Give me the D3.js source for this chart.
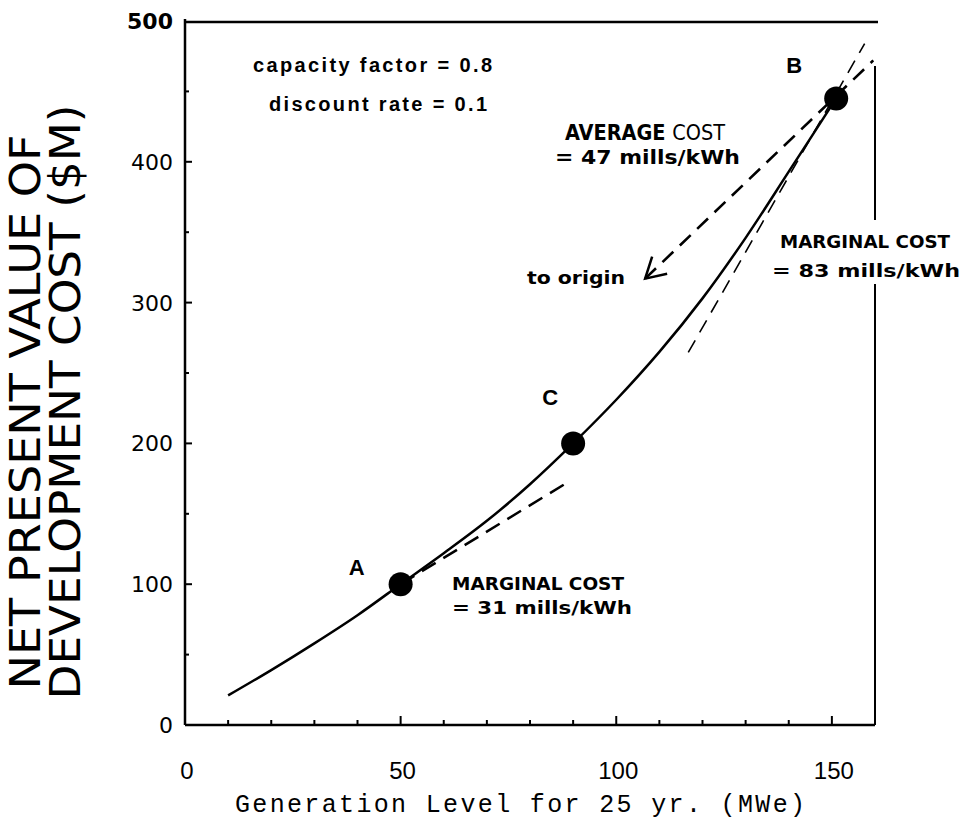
<!DOCTYPE html>
<html>
<head>
<meta charset="utf-8">
<script src="https://cdnjs.cloudflare.com/ajax/libs/d3/7.8.5/d3.min.js"></script>
<style>
  body { margin: 0; background: #fff; }
  svg { display: block; }
  .ann { font-family: "Liberation Sans Narrow", "DejaVu Sans Condensed", "Liberation Sans", sans-serif; font-weight: bold; fill: #000; }
</style>
</head>
<body>
<svg id="chart" width="961" height="824"></svg>
<script>
// ── data ──────────────────────────────────────────────────────────────────
const curveX = [10, 20, 30, 40, 50, 60, 70, 80, 90, 100, 110, 120, 130, 140, 151];
const curveY = [21, 39, 58, 78, 100, 122, 145, 171, 200, 231, 265, 303, 346, 393, 445];

const pointNames = ["A", "C", "B"];
const pointX = [50, 90, 151];
const pointY = [100, 200, 445];

// dashed reference lines, [x1, y1, x2, y2] in data units
const marginalA = [50, 100, 88, 171];
const marginalB = [116.7, 264.6, 157.6, 484];
const averageB = [106.7, 317, 159.6, 472];

const xTicks = [0, 50, 100, 150];
const xMinor = d3.range(10, 151, 10);
const yTicks = [0, 100, 200, 300, 400, 500];
const yMinor = d3.range(50, 500, 50);

// ── layout ────────────────────────────────────────────────────────────────
const svg = d3.select("#chart");
const xS = d3.scaleLinear().domain([0, 160]).range([185, 875]);
const yS = d3.scaleLinear().domain([0, 500]).range([725, 21]);

const g = svg.append("g");

// frame: left axis, bottom axis, top line, right line
g.append("line")
  .attr("x1", xS(0)).attr("x2", xS(0))
  .attr("y1", yS(0)).attr("y2", yS(500) - 2)
  .attr("stroke", "#000").attr("stroke-width", 2.5);
g.append("line")
  .attr("x1", xS(0)).attr("x2", xS(160))
  .attr("y1", yS(0)).attr("y2", yS(0))
  .attr("stroke", "#000").attr("stroke-width", 2.5);
g.append("line")
  .attr("x1", xS(0)).attr("x2", xS(160) + 3)
  .attr("y1", yS(500) + 1).attr("y2", yS(500) + 1)
  .attr("stroke", "#000").attr("stroke-width", 2.5);
g.append("line")
  .attr("x1", xS(160)).attr("x2", xS(160))
  .attr("y1", yS(468)).attr("y2", yS(0))
  .attr("stroke", "#000").attr("stroke-width", 2);

// x ticks (inward, up)
g.selectAll("line.xt")
  .data(xMinor)
  .enter()
  .append("line")
  .attr("class", "xt")
  .attr("x1", (d) => xS(d)).attr("x2", (d) => xS(d))
  .attr("y1", yS(0))
  .attr("y2", (d) => yS(0) - (d % 50 === 0 ? 9 : 5))
  .attr("stroke", "#000").attr("stroke-width", 2);

// y ticks (inward, right)
g.selectAll("line.yt")
  .data(yMinor)
  .enter()
  .append("line")
  .attr("class", "yt")
  .attr("x1", xS(0))
  .attr("x2", (d) => xS(0) + (d % 100 === 0 ? 7 : 4))
  .attr("y1", (d) => yS(d)).attr("y2", (d) => yS(d))
  .attr("stroke", "#000").attr("stroke-width", 2);

// tick labels
g.selectAll("text.xl")
  .data(xTicks)
  .enter()
  .append("text")
  .attr("class", "xl")
  .attr("x", (d) => xS(d) + 2)
  .attr("y", yS(0) + 54)
  .attr("text-anchor", "middle")
  .attr("font-family", "Liberation Sans, Arial, sans-serif")
  .attr("font-size", 24)
  .text((d) => d);

g.selectAll("text.yl")
  .data(yTicks)
  .enter()
  .append("text")
  .attr("class", "yl")
  .attr("x", xS(0) - 12)
  .attr("y", (d) => yS(d) + 8)
  .attr("text-anchor", "end")
  .attr("font-family", "DejaVu Sans, sans-serif")
  .attr("font-size", 22)
  .attr("font-weight", (d) => (d === 500 ? "bold" : "normal"))
  .text((d) => d);

// axis titles
svg.append("text")
  .attr("x", 520).attr("y", 812)
  .attr("text-anchor", "middle")
  .attr("font-family", "Liberation Mono, DejaVu Sans Mono, monospace")
  .attr("font-size", 25)
  .attr("textLength", 570)
  .text("Generation Level for 25 yr. (MWe)");

const yTitle = svg.append("text")
  .attr("transform", "rotate(-90)")
  .attr("text-anchor", "middle")
  .attr("font-family", "DejaVu Sans, sans-serif")
  .attr("font-size", 43);
yTitle.append("tspan")
  .attr("x", -412).attr("y", 40)
  .attr("textLength", 555).attr("lengthAdjust", "spacingAndGlyphs")
  .text("NET PRESENT VALUE OF");
yTitle.append("tspan")
  .attr("x", -402).attr("y", 80)
  .attr("textLength", 595).attr("lengthAdjust", "spacingAndGlyphs")
  .text("DEVELOPMENT COST ($M)");

// ── dashed lines ──────────────────────────────────────────────────────────
const dashed = (seg, w, dash) =>
  g.append("line")
    .attr("x1", xS(seg[0])).attr("y1", yS(seg[1]))
    .attr("x2", xS(seg[2])).attr("y2", yS(seg[3]))
    .attr("stroke", "#000")
    .attr("stroke-width", w)
    .attr("stroke-dasharray", dash);

dashed(marginalA, 2.5, "16,9");
dashed(marginalB, 1.6, "14,9");
dashed(averageB, 2.6, "15,9");

// arrow head at the lower end of the average-cost line
const tipX = xS(averageB[0]), tipY = yS(averageB[1]);
g.append("path")
  .attr("d", `M${tipX + 7},${tipY - 22} L${tipX},${tipY} L${tipX + 22},${tipY - 5}`)
  .attr("fill", "none")
  .attr("stroke", "#000")
  .attr("stroke-width", 2.5);

// ── cost curve ────────────────────────────────────────────────────────────
const line = d3.line()
  .x((d) => xS(d[0]))
  .y((d) => yS(d[1]))
  .curve(d3.curveCatmullRom);

g.append("path")
  .datum(curveX.map((x, i) => [x, curveY[i]]))
  .attr("d", line)
  .attr("fill", "none")
  .attr("stroke", "#000")
  .attr("stroke-width", 2.5);

// points
g.selectAll("circle.pt")
  .data(pointNames)
  .enter()
  .append("circle")
  .attr("class", "pt")
  .attr("cx", (d, i) => xS(pointX[i]))
  .attr("cy", (d, i) => yS(pointY[i]))
  .attr("r", 12)
  .attr("fill", "#000");

// point labels
const labelOff = { A: [-44, -17], C: [-23, -46], B: [-42, -33] };
g.selectAll("text.pl")
  .data(pointNames)
  .enter()
  .append("text")
  .attr("class", "pl")
  .attr("x", (d, i) => xS(pointX[i]) + labelOff[d][0])
  .attr("y", (d, i) => yS(pointY[i]) + labelOff[d][1] + 8)
  .attr("text-anchor", "middle")
  .attr("font-family", "Liberation Sans, Arial, sans-serif")
  .attr("font-weight", "bold")
  .attr("font-size", 22)
  .text((d) => d);

// ── annotations ───────────────────────────────────────────────────────────
const note = (x, y, txt, w, size) =>
  svg.append("text")
    .attr("class", "ann")
    .attr("x", x).attr("y", y)
    .attr("font-size", size)
    .attr("textLength", w)
    .attr("lengthAdjust", "spacingAndGlyphs")
    .text(txt);

svg.append("text")
  .attr("x", 253).attr("y", 72)
  .attr("font-family", "Liberation Sans, Arial, sans-serif")
  .attr("font-weight", "bold")
  .attr("font-size", 20)
  .attr("textLength", 239)
  .text("capacity factor = 0.8");
svg.append("text")
  .attr("x", 269).attr("y", 111)
  .attr("font-family", "Liberation Sans, Arial, sans-serif")
  .attr("font-weight", "bold")
  .attr("font-size", 20)
  .attr("textLength", 218)
  .text("discount rate = 0.1");

const avg = svg.append("text")
  .attr("class", "ann")
  .attr("x", 565).attr("y", 140)
  .attr("font-size", 21)
  .attr("textLength", 160)
  .attr("lengthAdjust", "spacingAndGlyphs");
avg.append("tspan").text("AVERAGE ");
avg.append("tspan").attr("font-weight", "normal").text("COST");
note(555, 164, "= 47 mills/kWh", 185, 20);

note(527, 284, "to origin", 98, 17);

// white patch where the label breaks the right-hand line
svg.append("rect")
  .attr("x", 768).attr("y", 220).attr("width", 193).attr("height", 64)
  .attr("fill", "#fff");
note(780, 248, "MARGINAL COST", 170, 18);
note(772, 277, "= 83 mills/kWh", 188, 18);

note(452, 590, "MARGINAL COST", 172, 18);
note(452, 614, "= 31 mills/kWh", 180, 18);
</script>
</body>
</html>
